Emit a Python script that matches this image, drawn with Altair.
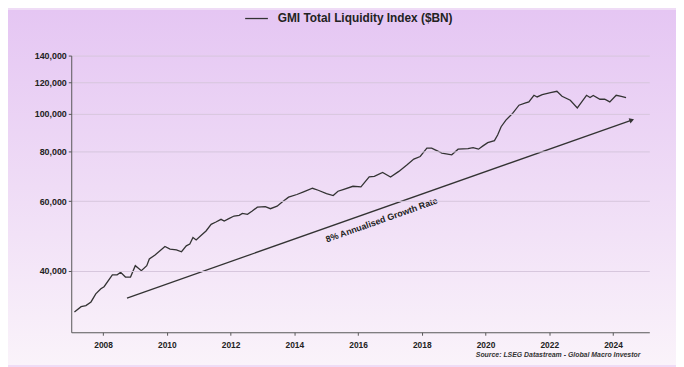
import altair as alt
import pandas as pd

SERIES = "GMI Total Liquidity Index ($BN)"

years = [2007.10, 2007.31, 2007.46, 2007.62, 2007.77, 2007.93, 2008.03, 2008.29, 2008.44, 2008.55,
         2008.70, 2008.86, 2009.01, 2009.20, 2009.37, 2009.45, 2009.63, 2009.94, 2010.10, 2010.30,
         2010.46, 2010.61, 2010.72, 2010.82, 2010.92, 2011.08, 2011.23, 2011.39, 2011.54, 2011.70,
         2011.80, 2011.96, 2012.11, 2012.27, 2012.37, 2012.53, 2012.68, 2012.84, 2013.09, 2013.25,
         2013.46, 2013.61, 2013.82, 2014.08, 2014.29, 2014.57, 2014.75, 2015.01, 2015.22, 2015.37,
         2015.53, 2015.84, 2016.09, 2016.35, 2016.51, 2016.77, 2017.02, 2017.28, 2017.54, 2017.75,
         2017.95, 2018.16, 2018.31, 2018.47, 2018.63, 2018.94, 2019.14, 2019.45, 2019.61, 2019.78,
         2019.92, 2020.07, 2020.28, 2020.38, 2020.49, 2020.64, 2020.85, 2021.05, 2021.26, 2021.36,
         2021.52, 2021.62, 2021.78, 2022.04, 2022.24, 2022.40, 2022.66, 2022.88, 2023.02, 2023.17,
         2023.28, 2023.38, 2023.59, 2023.74, 2023.90, 2024.10, 2024.26, 2024.41]

liquidity = [31500, 32500, 32700, 33400, 35000, 36050, 36500, 39100, 39100, 39700,
             38600, 38600, 41250, 40070, 41250, 42870, 43870, 46130, 45420, 45230,
             44720, 46290, 46750, 48590, 47920, 49240, 50480, 52470, 53170, 54010,
             53480, 54320, 55050, 55270, 55910, 55590, 56660, 57980, 58120, 57450,
             58320, 59680, 61430, 62400, 63380, 64700, 63960, 62750, 62030, 63590,
             64220, 65460, 65230, 69110, 69340, 70960, 69110, 71380, 74190, 76670,
             77830, 81700, 81700, 80580, 79380, 78600, 81230, 81510, 81980, 81230,
             82790, 84380, 85370, 88220, 92550, 96200, 100000, 104900, 106300, 106930,
             111140, 110060, 111600, 112890, 113740, 110500, 107980, 103280, 106930, 111140,
             109680, 110950, 108600, 108600, 106930, 111140, 110500, 109680]

trend_years = [2008.75, 2024.59]
trend_values = [34160, 96200]

label_year = [2016.74]
label_value = [53800]
label_text = ["8% Annualised Growth Rate"]

source_text = ["Source: LSEG Datastream - Global Macro Investor"]

y_ticks = [40000, 60000, 80000, 100000, 120000, 140000]
x_ticks = [2008, 2010, 2012, 2014, 2016, 2018, 2020, 2022, 2024]

W, H = 585, 280
PL, PT, PR, PB = 64, 46, 27, 33

df = pd.DataFrame({"year": years, "value": liquidity, "series": [SERIES] * len(years)})
trend = pd.DataFrame({"year": trend_years, "value": trend_values})
head = trend.iloc[[1]]
lab = pd.DataFrame({"year": label_year, "value": label_value, "text": label_text})
src = pd.DataFrame({"text": source_text})

FONT = "Liberation Sans"

xscale = alt.Scale(domain=[2007.0, 2025.14], nice=False, zero=False)
yscale = alt.Scale(type="log", domain=[28000, 140000], nice=False)

xenc = alt.X("year:Q", scale=xscale,
             axis=alt.Axis(values=x_ticks, format="d", title=None, grid=False, zindex=1,
                           labelFont=FONT, labelFontWeight="bold", labelFontSize=8.5,
                           labelColor="#222", domainColor="#555", tickColor="#555",
                           tickSize=3, labelPadding=5))
yenc = alt.Y("value:Q", scale=yscale,
             axis=alt.Axis(values=y_ticks, format=",.0f", title=None, grid=True, zindex=1,
                           gridColor="#d6c6dc", gridWidth=1,
                           labelFont=FONT, labelFontWeight="bold", labelFontSize=9,
                           labelColor="#222", domainColor="#555", tickColor="#555",
                           tickSize=3, labelPadding=2))

bg = alt.Chart(alt.Data(values=[{}])).mark_rect(
    clip=False,
    fill={"gradient": "linear", "x1": 0, "y1": 0, "x2": 0, "y2": 1,
          "stops": [{"offset": 0, "color": "#e5c6f3"},
                    {"offset": 0.5, "color": "#efdcf6"},
                    {"offset": 1, "color": "#faf3fa"}]},
).encode(x=alt.value(-PL), x2=alt.value(W + PR), y=alt.value(-PT), y2=alt.value(H + PB))

line = alt.Chart(df).mark_line(strokeWidth=1.3).encode(
    x=xenc, y=yenc,
    color=alt.Color("series:N", scale=alt.Scale(range=["#333333"]),
                    legend=alt.Legend(orient="none", legendX=175, legendY=-50, title=None,
                                      symbolType="stroke", symbolSize=529, symbolStrokeWidth=1.3,
                                      labelFont=FONT, labelFontWeight="bold", labelFontSize=12,
                                      labelColor="#222", labelOffset=9, padding=0,
                                      labelLimit=400)),
)

arrow = alt.Chart(trend).mark_line(strokeWidth=1.3, color="#333").encode(x="year:Q", y="value:Q")
arrowhead = alt.Chart(head).mark_point(shape="triangle-up", angle=70.6, size=30, filled=True,
                                       color="#333", opacity=1).encode(x="year:Q", y="value:Q")
text = alt.Chart(lab).mark_text(angle=340.5, font=FONT, fontWeight="bold", fontSize=9,
                                color="#222").encode(x="year:Q", y="value:Q", text="text:N")
source = alt.Chart(src).mark_text(align="right", baseline="middle", font=FONT, fontSize=7,
                                  fontStyle="italic", fontWeight="bold", color="#333",
                                  clip=False).encode(
    x=alt.value(576), y=alt.value(303), text="text:N")

chart = alt.layer(bg, line, arrow, arrowhead, text, source).properties(
    width=W, height=H,
).configure(
    background="#efdcf6", padding={"left": PL, "top": PT, "right": PR, "bottom": PB},
    autosize=alt.AutoSizeParams(type="none"),
).configure_view(stroke=None)

chart.save("out.html", embed_options={"renderer": "svg", "actions": False})
